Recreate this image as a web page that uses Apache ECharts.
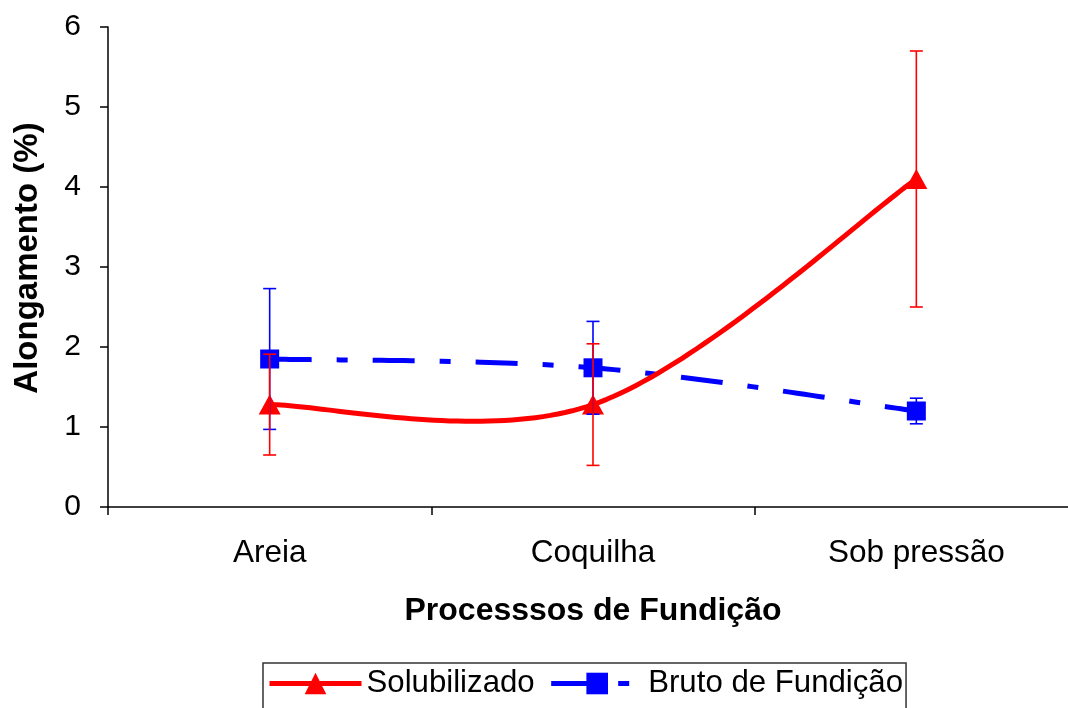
<!DOCTYPE html>
<html>
<head>
<meta charset="utf-8">
<script src="https://cdn.jsdelivr.net/npm/echarts@6/dist/echarts.min.js"></script>
<style>
  html, body { margin: 0; padding: 0; background: #ffffff; overflow: hidden; }
  /* the plot runs past the right edge of the window, as the last category band is cut off */
  #chart { width: 1078px; height: 708px; }
</style>
</head>
<body>
<div id="chart"></div>
<script>
// Casting processes on the x axis
const processes = ['Areia', 'Coquilha', 'Sob pressão'];

// Elongation (%) per process, mean values
const solubilizado = [1.28, 1.28, 4.10];
const brutoFundicao = [1.85, 1.74, 1.20];

// Half-width of the error bars (standard deviation)
const solubilizadoErr = [0.63, 0.76, 1.60];
const brutoFundicaoErr = [0.88, 0.58, 0.16];

// Y axis range and step
const yTicks = [0, 1, 2, 3, 4, 5, 6];

const RED = '#ff0000';
const BLUE = '#0000ff';
const FONT = '"Liberation Sans", Arial, sans-serif';
const BLUE_DASH = [42, 25, 11, 25];

function errorRows(means, errs) {
  return means.map((m, i) => [i, m - errs[i], m + errs[i]]);
}

function errorBarRenderer(color) {
  return function (params, api) {
    const low = api.coord([api.value(0), api.value(1)]);
    const high = api.coord([api.value(0), api.value(2)]);
    const cap = 6.5;
    const style = { stroke: color, lineWidth: 1.6 };
    return {
      type: 'group',
      children: [
        { type: 'line', shape: { x1: low[0], y1: low[1], x2: high[0], y2: high[1] }, style: style },
        { type: 'line', shape: { x1: low[0] - cap, y1: low[1], x2: low[0] + cap, y2: low[1] }, style: style },
        { type: 'line', shape: { x1: high[0] - cap, y1: high[1], x2: high[0] + cap, y2: high[1] }, style: style }
      ]
    };
  };
}

// Smoothed curve through the series points (cardinal spline, 1/6 tangent),
// sampled into one polyline so that a dash pattern stays continuous.
function smoothCurveRenderer(values, color, dash) {
  return function (params, api) {
    if (params.dataIndex !== 0) return null;
    const p = values.map((v, i) => api.coord([i, v]));
    const pts = [];
    const steps = 48;
    for (let i = 0; i < p.length - 1; i++) {
      const p0 = p[i];
      const p1 = p[i + 1];
      const pm = p[i - 1] || p0;
      const pn = p[i + 2] || p1;
      const c1 = [p0[0] + (p1[0] - pm[0]) / 6, p0[1] + (p1[1] - pm[1]) / 6];
      const c2 = [p1[0] - (pn[0] - p0[0]) / 6, p1[1] - (pn[1] - p0[1]) / 6];
      for (let s = (i === 0 ? 0 : 1); s <= steps; s++) {
        const t = s / steps;
        const u = 1 - t;
        const a = u * u * u, b = 3 * u * u * t, c = 3 * u * t * t, d = t * t * t;
        pts.push([
          a * p0[0] + b * c1[0] + c * c2[0] + d * p1[0],
          a * p0[1] + b * c1[1] + c * c2[1] + d * p1[1]
        ]);
      }
    }
    return {
      type: 'polyline',
      shape: { points: pts },
      style: { stroke: color, lineWidth: 5, fill: null, lineDash: dash || null, lineCap: 'butt', lineJoin: 'round' }
    };
  };
}

const chart = echarts.init(document.getElementById('chart'), null, { renderer: 'canvas' });

chart.setOption({
  backgroundColor: '#ffffff',
  animation: false,
  textStyle: { fontFamily: FONT, color: '#000' },
  grid: { left: 108, right: 0, top: 27, bottom: 201, containLabel: false },
  xAxis: {
    type: 'category',
    data: processes,
    boundaryGap: true,
    name: 'Processsos de Fundição',
    nameLocation: 'middle',
    nameGap: 88,
    nameTextStyle: { fontFamily: FONT, fontSize: 32, fontWeight: 'bold', color: '#000', verticalAlign: 'top' },
    axisLine: { lineStyle: { color: '#000', width: 1.5 } },
    axisTick: { show: true, length: 8, lineStyle: { color: '#000', width: 1.5 } },
    axisLabel: { fontFamily: FONT, fontSize: 31.5, color: '#000', margin: 30 },
    splitLine: { show: false }
  },
  yAxis: {
    type: 'value',
    min: yTicks[0],
    max: yTicks[yTicks.length - 1],
    interval: 1,
    name: 'Alongamento (%)',
    nameLocation: 'middle',
    nameGap: 64,
    nameRotate: 90,
    nameTextStyle: { fontFamily: FONT, fontSize: 33, fontWeight: 'bold', color: '#000', padding: [0, 0, 0, 18] },
    axisLine: { show: true, lineStyle: { color: '#000', width: 1.5 } },
    axisTick: { show: true, length: 8, lineStyle: { color: '#000', width: 1.5 } },
    axisLabel: { fontFamily: FONT, fontSize: 30, color: '#000', margin: 27 },
    splitLine: { show: false }
  },
  legend: {
    data: [
      { name: 'Solubilizado', lineStyle: { opacity: 1, width: 5, color: RED, type: 'solid' } },
      { name: 'Bruto de Fundição', lineStyle: { opacity: 1, width: 5, color: BLUE, type: BLUE_DASH } }
    ],
    left: 263,
    top: 663,
    orient: 'horizontal',
    itemWidth: 92,
    itemHeight: 27,
    itemGap: 14,
    padding: [5, 3, 10, 4],
    borderColor: '#333',
    borderWidth: 1.5,
    textStyle: { fontFamily: FONT, fontSize: 31.2, color: '#000' }
  },
  series: [
    {
      name: 'curva-bruto',
      type: 'custom',
      data: brutoFundicao.map((v, i) => [i, v]),
      renderItem: smoothCurveRenderer(brutoFundicao, BLUE, BLUE_DASH),
      z: 2,
      silent: true
    },
    {
      name: 'curva-solubilizado',
      type: 'custom',
      data: solubilizado.map((v, i) => [i, v]),
      renderItem: smoothCurveRenderer(solubilizado, RED, null),
      z: 3,
      silent: true
    },
    {
      name: 'Bruto de Fundição',
      type: 'line',
      data: brutoFundicao,
      z: 4,
      symbol: 'rect',
      symbolSize: 19,
      itemStyle: { color: BLUE },
      lineStyle: { color: BLUE, width: 5, type: BLUE_DASH, opacity: 0 }
    },
    {
      name: 'Solubilizado',
      type: 'line',
      data: solubilizado,
      z: 5,
      symbol: 'triangle',
      symbolSize: [22, 20],
      itemStyle: { color: RED },
      lineStyle: { color: RED, width: 5, opacity: 0 }
    },
    {
      name: 'erro-bruto',
      type: 'custom',
      data: errorRows(brutoFundicao, brutoFundicaoErr),
      renderItem: errorBarRenderer(BLUE),
      z: 6,
      silent: true
    },
    {
      name: 'erro-solubilizado',
      type: 'custom',
      data: errorRows(solubilizado, solubilizadoErr),
      renderItem: errorBarRenderer(RED),
      z: 6,
      silent: true
    }
  ]
});
</script>
</body>
</html>
